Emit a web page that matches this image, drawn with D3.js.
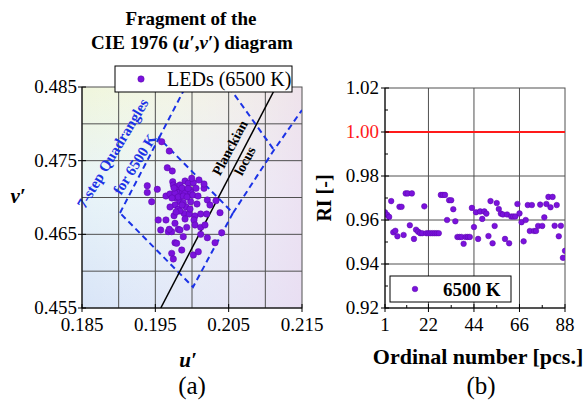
<!DOCTYPE html>
<html>
<head>
<meta charset="utf-8">
<script src="https://cdn.jsdelivr.net/npm/d3@7"></script>
<style>
  body { margin: 0; background: #fff; }
</style>
</head>
<body>
<script>
// ---- data ----
// (a) LED chromaticities u', v'
const ledU = [0.19587, 0.19690, 0.19663, 0.19731, 0.19390, 0.19390, 0.19527, 0.19737, 0.19745, 0.19905,
  0.19950, 0.20018, 0.19996, 0.20095, 0.20055, 0.19973, 0.20164, 0.19836, 0.19813, 0.19873,
  0.19645, 0.19700, 0.19768, 0.19905, 0.19986, 0.19450, 0.19791, 0.19836, 0.19881, 0.19768,
  0.19813, 0.19982, 0.20209, 0.20327, 0.19891, 0.19963, 0.20041, 0.20027, 0.20119, 0.20200,
  0.20382, 0.19755, 0.19540, 0.19645, 0.19768, 0.19573, 0.19677, 0.19723, 0.19690, 0.19813,
  0.19836, 0.19928, 0.20041, 0.20119, 0.20177, 0.20119, 0.20209, 0.20314, 0.20405, 0.19768,
  0.19791, 0.19881, 0.19723, 0.19860, 0.19745, 0.20018, 0.20086, 0.20164, 0.19791, 0.19813,
  0.19881, 0.19932, 0.20010, 0.19836, 0.19755, 0.19918, 0.19836, 0.20068, 0.19864, 0.19945,
  0.19727, 0.19864, 0.19973, 0.19782, 0.20082, 0.19905, 0.19700, 0.20245];
const ledV = [0.47757, 0.47631, 0.47404, 0.47360, 0.47160, 0.47068, 0.47111, 0.47214, 0.47170, 0.47224,
  0.47193, 0.47201, 0.47261, 0.47238, 0.47125, 0.47102, 0.47125, 0.47102, 0.47065, 0.47079,
  0.47020, 0.47047, 0.47057, 0.47065, 0.47068, 0.46943, 0.46989, 0.46943, 0.46929, 0.46898,
  0.46840, 0.46943, 0.46966, 0.46957, 0.46785, 0.46776, 0.46749, 0.46695, 0.46776, 0.46776,
  0.46794, 0.46753, 0.46695, 0.46695, 0.46650, 0.46559, 0.46536, 0.46536, 0.46568, 0.46568,
  0.46559, 0.46595, 0.46627, 0.46595, 0.46627, 0.46500, 0.46454, 0.46386, 0.46522, 0.46386,
  0.46378, 0.46468, 0.46242, 0.46287, 0.46165, 0.46219, 0.46264, 0.47183, 0.47147, 0.47007,
  0.47020, 0.47007, 0.47034, 0.47170, 0.47129, 0.46871, 0.46817, 0.46912, 0.47129, 0.47122,
  0.46993, 0.46898, 0.46844, 0.46803, 0.47020, 0.46708, 0.46871, 0.46898];

// Planckian locus (local segment)
const planckU = [0.19574, 0.21145];
const planckV = [0.45500, 0.48500];

// 7-step quadrangle edges (dashed)
const quadMain = [[0.19018, 0.46790], [0.19550, 0.47808], [0.20559, 0.46790], [0.20014, 0.45785], [0.19018, 0.46790]];
const quadUpLeft = [[0.19550, 0.47808], [0.19911, 0.48500]];
const quadUpRight = [[0.20559, 0.46790], [0.21118, 0.47645], [0.21500, 0.48188]];
const quadUpTop = [[0.20504, 0.48500], [0.21118, 0.47645]];

const uTicks = [0.185, 0.195, 0.205, 0.215];
const vTicks = [0.455, 0.465, 0.475, 0.485];
const uGrid = [0.19, 0.195, 0.20, 0.205, 0.21];
const vGrid = [0.46, 0.465, 0.47, 0.475, 0.48];

// (b) RI for each LED
const riValues = [0.9635, 0.9624, 0.9614, 0.9686, 0.9544, 0.9551, 0.9526, 0.9660, 0.9660, 0.9532,
  0.9721, 0.9721, 0.9576, 0.9721, 0.9514, 0.9556, 0.9547, 0.9540, 0.9540, 0.9662,
  0.9540, 0.9540, 0.9540, 0.9540, 0.9540, 0.9540, 0.9540, 0.9714, 0.9714, 0.9714,
  0.9600, 0.9690, 0.9690, 0.9649, 0.9594, 0.9523, 0.9523, 0.9523, 0.9492, 0.9523,
  0.9523, 0.9523, 0.9655, 0.9568, 0.9635, 0.9514, 0.9639, 0.9605, 0.9639, 0.9629,
  0.9527, 0.9686, 0.9494, 0.9573, 0.9677, 0.9650, 0.9629, 0.9625, 0.9514, 0.9625,
  0.9494, 0.9616, 0.9616, 0.9616, 0.9673, 0.9630, 0.9590, 0.9503, 0.9600, 0.9668,
  0.9550, 0.9668, 0.9550, 0.9550, 0.9573, 0.9670, 0.9573, 0.9612, 0.9673, 0.9705,
  0.9658, 0.9705, 0.9574, 0.9668, 0.9526, 0.9574, 0.9428, 0.9460];
const ordTicks = [1, 22, 44, 66, 88];
const riTicks = [0.92, 0.94, 0.96, 0.98, 1.00, 1.02];
const riMinor = [0.93, 0.95, 0.97, 0.99, 1.01];
const riRef = 1.00;

const dotFill = "#7a12dc";
const dotStroke = "#5a06a8";
const quadBlue = "#1b32e6";
const serif = "'Liberation Serif', 'Times New Roman', 'DejaVu Serif', serif";

const svg = d3.select("body").append("svg")
  .attr("width", 587)
  .attr("height", 403)
  .attr("font-family", serif)
  .style("font-family", serif);

const defs = svg.append("defs");

// ================= (a) =================
const ax = { l: 82, r: 302, t: 87, b: 308 };
const uScale = d3.scaleLinear().domain([0.185, 0.215]).range([ax.l, ax.r]);
const vScale = d3.scaleLinear().domain([0.455, 0.485]).range([ax.b, ax.t]);

let gV = defs.append("linearGradient").attr("id", "bgV")
  .attr("x1", 0).attr("y1", 0).attr("x2", 0).attr("y2", 1);
gV.append("stop").attr("offset", "0%").attr("stop-color", "#f0f6dc");
gV.append("stop").attr("offset", "45%").attr("stop-color", "#e8f4f8");
gV.append("stop").attr("offset", "100%").attr("stop-color", "#d8e4f8");
let gH = defs.append("linearGradient").attr("id", "bgH")
  .attr("x1", 0).attr("y1", 0).attr("x2", 1).attr("y2", 0);
gH.append("stop").attr("offset", "0%").attr("stop-color", "#ffffff").attr("stop-opacity", 0);
gH.append("stop").attr("offset", "100%").attr("stop-color", "#eedcf0").attr("stop-opacity", 0.75);

defs.append("clipPath").attr("id", "clipA").append("rect")
  .attr("x", ax.l).attr("y", ax.t).attr("width", ax.r - ax.l).attr("height", ax.b - ax.t);

const pa = svg.append("g");
pa.append("rect").attr("x", ax.l).attr("y", ax.t)
  .attr("width", ax.r - ax.l).attr("height", ax.b - ax.t).attr("fill", "url(#bgV)");
pa.append("rect").attr("x", ax.l).attr("y", ax.t)
  .attr("width", ax.r - ax.l).attr("height", ax.b - ax.t).attr("fill", "url(#bgH)");

// grid
pa.selectAll(".ug").data(uGrid).enter().append("line")
  .attr("x1", d => uScale(d)).attr("x2", d => uScale(d))
  .attr("y1", ax.t).attr("y2", ax.b)
  .attr("stroke", "#505050").attr("stroke-width", 1);
pa.selectAll(".vg").data(vGrid).enter().append("line")
  .attr("y1", d => vScale(d)).attr("y2", d => vScale(d))
  .attr("x1", ax.l).attr("x2", ax.r)
  .attr("stroke", "#505050").attr("stroke-width", 1);
pa.append("rect").attr("x", ax.l).attr("y", ax.t)
  .attr("width", ax.r - ax.l).attr("height", ax.b - ax.t)
  .attr("fill", "none").attr("stroke", "#505050");

const inner = pa.append("g").attr("clip-path", "url(#clipA)");
const uvLine = d3.line().x(d => uScale(d[0])).y(d => vScale(d[1]));

[quadMain, quadUpLeft, quadUpRight, quadUpTop].forEach(function(q) {
  inner.append("path").attr("d", uvLine(q))
    .attr("fill", "none").attr("stroke", quadBlue)
    .attr("stroke-width", 2).attr("stroke-dasharray", "6,4");
});

inner.append("path").attr("d", uvLine(d3.zip(planckU, planckV)))
  .attr("stroke", "#000").attr("stroke-width", 1.5);

inner.selectAll("circle").data(d3.zip(ledU, ledV)).enter().append("circle")
  .attr("cx", d => uScale(d[0])).attr("cy", d => vScale(d[1]))
  .attr("r", 3.2).attr("fill", dotFill).attr("stroke", dotStroke).attr("stroke-width", 0.5);

// annotations
pa.append("text").attr("transform", "translate(117,156) rotate(-59)")
  .attr("text-anchor", "middle").attr("font-size", 15).attr("font-weight", "bold")
  .attr("fill", quadBlue).text("7-step Quadrangles");
pa.append("text").attr("transform", "translate(139,167) rotate(-58)")
  .attr("text-anchor", "middle").attr("font-size", 15).attr("font-weight", "bold")
  .attr("fill", quadBlue).text("for 6500 K");
pa.append("text").attr("transform", "translate(234,150) rotate(-62)")
  .attr("text-anchor", "middle").attr("font-size", 14).attr("font-weight", "bold")
  .text("Planckian");
pa.append("text").attr("transform", "translate(249,163) rotate(-62)")
  .attr("text-anchor", "middle").attr("font-size", 14).attr("font-weight", "bold")
  .text("locus");

// axes
const axisA = svg.append("g");
axisA.append("line").attr("x1", ax.l).attr("x2", ax.l).attr("y1", ax.t).attr("y2", ax.b).attr("stroke", "#000");
axisA.append("line").attr("x1", ax.l).attr("x2", ax.r).attr("y1", ax.b).attr("y2", ax.b).attr("stroke", "#000");
axisA.selectAll(".vt").data(vTicks).enter().append("line")
  .attr("x1", ax.l - 4).attr("x2", ax.l + 4)
  .attr("y1", d => vScale(d)).attr("y2", d => vScale(d)).attr("stroke", "#000");
axisA.selectAll(".ut").data(uTicks).enter().append("line")
  .attr("y1", ax.b - 4).attr("y2", ax.b + 4)
  .attr("x1", d => uScale(d)).attr("x2", d => uScale(d)).attr("stroke", "#000");
axisA.selectAll(".vl").data(vTicks).enter().append("text")
  .attr("x", ax.l - 5).attr("y", d => vScale(d) + 6)
  .attr("text-anchor", "end").attr("font-size", 19).text(d => d.toFixed(3));
axisA.selectAll(".ul").data(uTicks).enter().append("text")
  .attr("x", d => uScale(d)).attr("y", ax.b + 23)
  .attr("text-anchor", "middle").attr("font-size", 19).text(d => d.toFixed(3));

svg.append("text").attr("x", 18).attr("y", 203).attr("text-anchor", "middle")
  .attr("font-size", 21).attr("font-weight", "bold").attr("font-style", "italic").text("v′");
svg.append("text").attr("x", 188).attr("y", 367).attr("text-anchor", "middle")
  .attr("font-size", 21).attr("font-weight", "bold").attr("font-style", "italic").text("u′");
svg.append("text").attr("x", 192).attr("y", 394).attr("text-anchor", "middle")
  .attr("font-size", 25).text("(a)");

// title
svg.append("text").attr("x", 191).attr("y", 25).attr("text-anchor", "middle")
  .attr("font-size", 19).attr("font-weight", "bold").text("Fragment of the");
const t2 = svg.append("text").attr("x", 192).attr("y", 49).attr("text-anchor", "middle")
  .attr("font-size", 19).attr("font-weight", "bold");
t2.append("tspan").text("CIE 1976 (");
t2.append("tspan").attr("font-style", "italic").text("u′");
t2.append("tspan").text(",");
t2.append("tspan").attr("font-style", "italic").text("v′");
t2.append("tspan").text(") diagram");

// legend (a)
const legA = svg.append("g");
legA.append("rect").attr("x", 115).attr("y", 66).attr("width", 177).attr("height", 26)
  .attr("fill", "#fff").attr("stroke", "#000").attr("stroke-width", 1);
legA.append("circle").attr("cx", 141).attr("cy", 79).attr("r", 3.2)
  .attr("fill", dotFill).attr("stroke", dotStroke).attr("stroke-width", 0.5);
legA.append("text").attr("x", 167).attr("y", 86).attr("font-size", 20).text("LEDs (6500 K)");

// ================= (b) =================
const bx = { l: 385, r: 565, t: 88, b: 308 };
const nScale = d3.scaleLinear().domain([1, 88]).range([bx.l, bx.r]);
const riScale = d3.scaleLinear().domain([0.92, 1.02]).range([bx.b, bx.t]);

const pb = svg.append("g");
pb.append("rect").attr("x", bx.l).attr("y", bx.t).attr("width", bx.r - bx.l).attr("height", bx.b - bx.t)
  .attr("fill", "#fff").attr("stroke", "#505050");
pb.selectAll(".ng").data(ordTicks.slice(1, -1)).enter().append("line")
  .attr("x1", d => nScale(d)).attr("x2", d => nScale(d))
  .attr("y1", bx.t).attr("y2", bx.b).attr("stroke", "#505050");
pb.selectAll(".rg").data(riTicks.slice(1, -1)).enter().append("line")
  .attr("y1", d => riScale(d)).attr("y2", d => riScale(d))
  .attr("x1", bx.l).attr("x2", bx.r).attr("stroke", "#505050");

pb.append("line").attr("x1", bx.l).attr("x2", bx.r)
  .attr("y1", riScale(riRef)).attr("y2", riScale(riRef))
  .attr("stroke", "#ff1a1a").attr("stroke-width", 2);

defs.append("clipPath").attr("id", "clipB").append("rect")
  .attr("x", bx.l).attr("y", bx.t).attr("width", bx.r - bx.l).attr("height", bx.b - bx.t);
pb.append("g").attr("clip-path", "url(#clipB)")
  .selectAll("circle").data(riValues).enter().append("circle")
  .attr("cx", (d, i) => nScale(i + 1)).attr("cy", d => riScale(d))
  .attr("r", 2.8).attr("fill", dotFill).attr("stroke", dotStroke).attr("stroke-width", 0.5);

// axes (b)
const axisB = svg.append("g");
axisB.append("line").attr("x1", bx.l).attr("x2", bx.l).attr("y1", bx.t).attr("y2", bx.b).attr("stroke", "#000");
axisB.append("line").attr("x1", bx.l).attr("x2", bx.r).attr("y1", bx.b).attr("y2", bx.b).attr("stroke", "#000");
axisB.selectAll(".rt").data(riTicks).enter().append("line")
  .attr("x1", bx.l - 4).attr("x2", bx.l + 4)
  .attr("y1", d => riScale(d)).attr("y2", d => riScale(d)).attr("stroke", "#000");
axisB.selectAll(".rm").data(riMinor).enter().append("line")
  .attr("x1", bx.l).attr("x2", bx.l + 3)
  .attr("y1", d => riScale(d)).attr("y2", d => riScale(d)).attr("stroke", "#000");
axisB.selectAll(".nt").data(ordTicks).enter().append("line")
  .attr("y1", bx.b - 4).attr("y2", bx.b + 4)
  .attr("x1", d => nScale(d)).attr("x2", d => nScale(d)).attr("stroke", "#000");
axisB.selectAll(".nm").data(d3.pairs(ordTicks)).enter().append("line")
  .attr("y1", bx.b - 3).attr("y2", bx.b)
  .attr("x1", d => nScale((d[0] + d[1]) / 2)).attr("x2", d => nScale((d[0] + d[1]) / 2)).attr("stroke", "#000");
axisB.selectAll(".rl").data(riTicks).enter().append("text")
  .attr("x", bx.l - 6).attr("y", d => riScale(d) + 6)
  .attr("text-anchor", "end").attr("font-size", 19)
  .attr("fill", d => d === riRef ? "#ff1a1a" : "#000")
  .text(d => d.toFixed(2));
axisB.selectAll(".nl").data(ordTicks).enter().append("text")
  .attr("x", d => nScale(d)).attr("y", bx.b + 23)
  .attr("text-anchor", "middle").attr("font-size", 19).text(d => d);

svg.append("text").attr("transform", "translate(331,198) rotate(-90)")
  .attr("text-anchor", "middle").attr("font-size", 20).attr("font-weight", "bold").text("RI [-]");
svg.append("text").attr("x", 478).attr("y", 364).attr("text-anchor", "middle")
  .attr("font-size", 22).attr("font-weight", "bold").text("Ordinal number [pcs.]");
svg.append("text").attr("x", 481).attr("y", 394).attr("text-anchor", "middle")
  .attr("font-size", 25).text("(b)");

// legend (b)
const legB = svg.append("g");
legB.append("rect").attr("x", 390).attr("y", 276).attr("width", 121).attr("height", 26)
  .attr("fill", "#fff").attr("stroke", "#000");
legB.append("circle").attr("cx", 415).attr("cy", 289).attr("r", 2.8)
  .attr("fill", dotFill).attr("stroke", dotStroke).attr("stroke-width", 0.5);
legB.append("text").attr("x", 443).attr("y", 296).attr("font-size", 19)
  .attr("font-weight", "bold").text("6500 K");
</script>
</body>
</html>
